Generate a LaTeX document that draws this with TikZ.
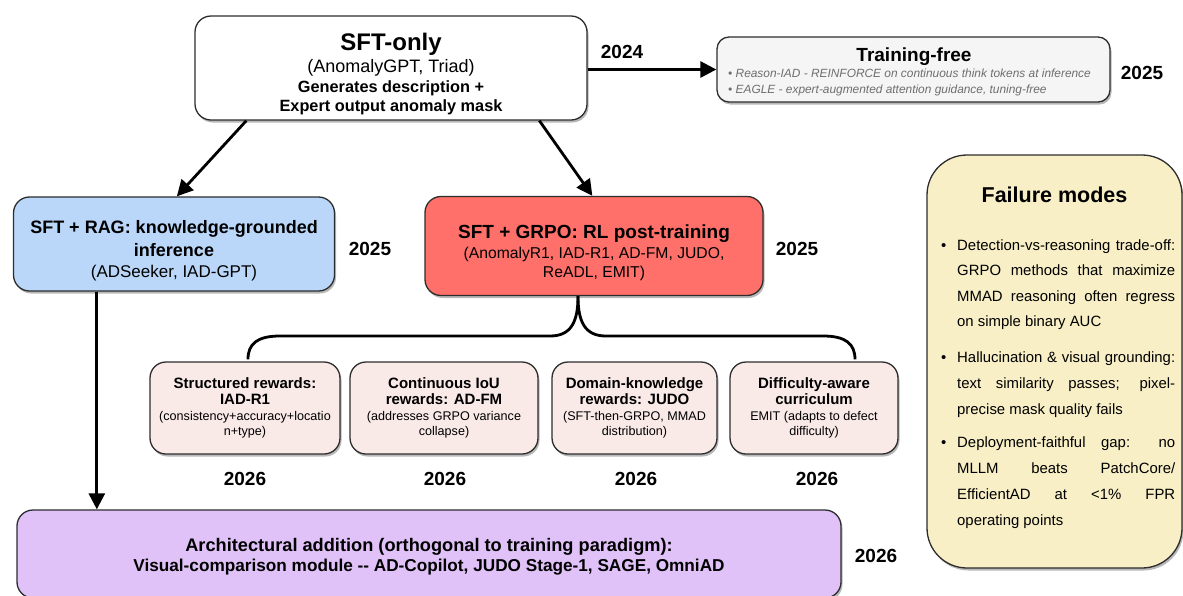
\documentclass[tikz,border=0pt]{standalone}
\usepackage{fontspec}
\setmainfont{Liberation Sans}
\usetikzlibrary{arrows.meta,shadows}
\newcommand{\myfs}[1]{\fontsize{#1}{#1}\selectfont}
\definecolor{bordc}{RGB}{45,45,45}
\definecolor{ragc}{RGB}{186,215,250}
\definecolor{grpoc}{RGB}{255,112,106}
\definecolor{smallc}{RGB}{249,234,232}
\definecolor{archc}{RGB}{224,194,248}
\definecolor{failc}{RGB}{248,239,198}
\definecolor{tfc}{RGB}{245,245,245}
\definecolor{graytxt}{RGB}{110,110,110}
\tikzset{
  box/.style={draw=bordc, line width=1.3pt, rounded corners=16pt, inner sep=0pt,
    drop shadow={fill=black, opacity=0.28, shadow xshift=1.5pt, shadow yshift=-2.5pt}},
  txt/.style={inner sep=0pt, anchor=base},
  ltxt/.style={inner sep=0pt, anchor=base west},
  yr/.style={txt, font=\myfs{19}\bfseries},
  arr/.style={line width=2.8pt, draw=black, -{Triangle[length=16pt,width=16pt]}},
  brace/.style={line width=2.8pt, draw=black},
  sbold/.style={txt, font=\myfs{15}\bfseries},
  sreg/.style={txt, font=\myfs{12.6}},
  ftxt/.style={ltxt, font=\myfs{14.9}},
}
\begin{document}
\begin{tikzpicture}[x=1pt,y=-1pt]
\useasboundingbox (0,0) rectangle (1183,595);

% ---------- boxes ----------
\node[box, fill=white, minimum width=392pt, minimum height=104pt] (sft) at (391,68) {};
\node[box, fill=tfc, rounded corners=12pt, minimum width=393pt, minimum height=65pt] (tf) at (913.5,69.5) {};
\node[box, fill=ragc, minimum width=321pt, minimum height=94pt] (rag) at (174,244) {};
\node[box, fill=grpoc, minimum width=338pt, minimum height=99pt] (grpo) at (594,246) {};
\node[box, fill=smallc, minimum width=190pt, minimum height=92pt] (s1) at (245,408) {};
\node[box, fill=smallc, minimum width=188pt, minimum height=92pt] (s2) at (444,408) {};
\node[box, fill=smallc, minimum width=165pt, minimum height=92pt] (s3) at (634.5,408) {};
\node[box, fill=smallc, minimum width=168pt, minimum height=92pt] (s4) at (814,408) {};
\node[box, fill=archc, minimum width=824pt, minimum height=88pt] (arch) at (429,554) {};
\node[box, fill=failc, rounded corners=40pt, minimum width=255pt, minimum height=413pt] (fail) at (1054.5,361.5) {};

% ---------- SFT-only ----------
\node[txt, font=\myfs{24}\bfseries] (t_sft1) at (391,50) {SFT-only};
\node[txt, font=\myfs{18}] (t_sft2) at (391,72.5) {(AnomalyGPT, Triad)};
\node[txt, font=\myfs{16.3}\bfseries] (t_sft3) at (391,92.5) {Generates description +};
\node[txt, font=\myfs{16.3}\bfseries] (t_sft4) at (391,111.5) {Expert output anomaly mask};

% ---------- Training-free ----------
\node[txt, font=\myfs{19}\bfseries] (t_tf1) at (914,61) {Training-free};
\node[ltxt, font=\myfs{11.9}\itshape, text=graytxt] (t_tf2) at (728,77) {• Reason-IAD - REINFORCE on continuous think tokens at inference};
\node[ltxt, font=\myfs{11.9}\itshape, text=graytxt] (t_tf3) at (728,93) {• EAGLE - expert-augmented attention guidance, tuning-free};

% ---------- RAG ----------
\node[txt, font=\myfs{18}\bfseries] (t_rag1) at (174,233) {SFT + RAG: knowledge-grounded};
\node[txt, font=\myfs{18}\bfseries] (t_rag2) at (174,256.5) {inference};
\node[txt, font=\myfs{17}] (t_rag3) at (174,277.5) {(ADSeeker, IAD-GPT)};

% ---------- GRPO ----------
\node[txt, font=\myfs{19}\bfseries] (t_gr1) at (594,238) {SFT + GRPO: RL post-training};
\node[txt, font=\myfs{15.7}] (t_gr2) at (594,258.5) {(AnomalyR1, IAD-R1, AD-FM, JUDO,};
\node[txt, font=\myfs{15.7}] (t_gr3) at (594,277) {ReADL, EMIT)};

% ---------- small boxes ----------
\node[sbold] (t_s11) at (245,388) {Structured rewards:};
\node[sbold] (t_s12) at (245,404) {IAD-R1};
\node[sreg] (t_s13) at (245,420) {(consistency+accuracy+locatio};
\node[sreg] (t_s14) at (245,435) {n+type)};
\node[sbold] (t_s21) at (444,388) {Continuous IoU};
\node[sbold] (t_s22) at (444,404) {rewards: AD-FM};
\node[sreg] (t_s23) at (444,420) {(addresses GRPO variance};
\node[sreg] (t_s24) at (444,435) {collapse)};
\node[sbold] (t_s31) at (634.5,388) {Domain-knowledge};
\node[sbold] (t_s32) at (634.5,404) {rewards: JUDO};
\node[sreg] (t_s33) at (634.5,420) {(SFT-then-GRPO, MMAD};
\node[sreg] (t_s34) at (634.5,435) {distribution)};
\node[sbold] (t_s41) at (814,388) {Difficulty-aware};
\node[sbold] (t_s42) at (814,404) {curriculum};
\node[sreg] (t_s43) at (814,420) {EMIT (adapts to defect};
\node[sreg] (t_s44) at (814,435) {difficulty)};

% ---------- architecture ----------
\node[txt, font=\myfs{18.2}\bfseries] (t_ar1) at (429,551) {Architectural addition (orthogonal to training paradigm):};
\node[txt, font=\myfs{17.2}\bfseries] (t_ar2) at (429,571) {Visual-comparison module -\kern0pt- AD-Copilot, JUDO Stage-1, SAGE, OmniAD};

% ---------- failure modes ----------
\node[txt, font=\myfs{21.5}\bfseries] (t_f0) at (1054.5,202) {Failure modes};
\foreach \yy in {250,362,447.5} {\node[ltxt, font=\myfs{14.9}] at (941,\yy) {•};}
\node[ftxt] (f11) at (957,250) {\makebox[218pt][s]{Detection-vs-reasoning trade-off:}};
\node[ftxt] (f12) at (957,275.6) {\makebox[218pt][s]{GRPO methods that maximize}};
\node[ftxt] (f13) at (957,301.2) {\makebox[218pt][s]{MMAD reasoning often regress}};
\node[ftxt] (f14) at (957,326.8) {on simple binary AUC};
\node[ftxt] (f21) at (957,362) {\makebox[218pt][s]{Hallucination \& visual grounding:}};
\node[ftxt] (f22) at (957,388) {\makebox[218pt][s]{text similarity passes; pixel-}};
\node[ftxt] (f23) at (957,414) {precise mask quality fails};
\node[ftxt] (f31) at (957,447.5) {\makebox[218pt][s]{Deployment-faithful gap: no}};
\node[ftxt] (f32) at (957,473.5) {\makebox[218pt][s]{MLLM beats PatchCore/}};
\node[ftxt] (f33) at (957,499.5) {\makebox[218pt][s]{EfficientAD at <1\% FPR}};
\node[ftxt] (f34) at (957,525.5) {operating points};

% ---------- years ----------
\node[yr] (y2024) at (622,58) {2024};
\node[yr] (y_tf) at (1142,79) {2025};
\node[yr] (y_rag) at (370,255) {2025};
\node[yr] (y_gr) at (797,255) {2025};
\node[yr] (y_s1) at (245,485) {2026};
\node[yr] (y_s2) at (445,485) {2026};
\node[yr] (y_s3) at (636,485) {2026};
\node[yr] (y_s4) at (817,485) {2026};
\node[yr] (y_ar) at (876,562) {2026};

% ---------- connectors ----------
\draw[arr] (sft.east |- tf.west) -- (tf.west);
\draw[arr] ([xshift=52pt]sft.south west) -- ([xshift=164pt]rag.north west);
\draw[arr] ([xshift=345pt]sft.south west) -- ([xshift=168pt]grpo.north west);
\draw[arr] ([xshift=84pt]rag.south west) -- ([xshift=84pt]rag.south west |- arch.north);

\coordinate (cusp) at ([xshift=-16pt]grpo.south);
\coordinate (bl) at ([xshift=3pt,yshift=2pt]s1.north);
\coordinate (br) at ([xshift=41pt,yshift=2pt]s4.north);
\draw[brace] (cusp) .. controls (578,322) and (571,336) .. (550,336) -- (280,336)
  .. controls (257,336) and (248,344) .. (bl);
\draw[brace] (cusp) .. controls (578,322) and (585,336) .. (606,336) -- (823,336)
  .. controls (846,336) and (855,344) .. (br);
\end{tikzpicture}
\end{document}
